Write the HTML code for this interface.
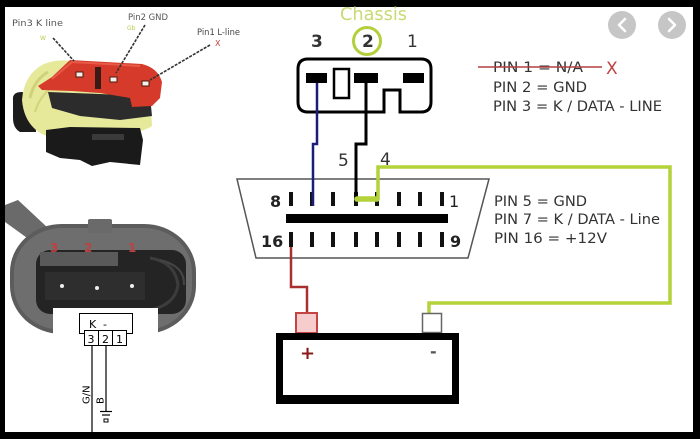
<!DOCTYPE html>
<html><head><meta charset="utf-8"><style>
html,body{margin:0;padding:0;background:#000;}
svg{display:block;}
text{font-family:"DejaVu Sans","Liberation Sans",sans-serif;}
</style></head><body>
<svg width="700" height="439" viewBox="0 0 700 439" xmlns="http://www.w3.org/2000/svg">
<rect x="0" y="0" width="700" height="439" fill="#000"/>
<rect x="5" y="7" width="688" height="425" fill="#fff"/>

<!-- ===== top-left photo (approx) ===== -->
<path d="M13,100 Q12,92 22,92 L34,96 L36,132 L20,132 Q13,128 13,118 Z" fill="#1c1c1c"/>
<path d="M22,100 Q24,74 44,64 Q60,58 75,62 L150,92 L152,126 Q140,134 120,132 L80,130 Q58,142 42,134 Q24,124 22,100 Z" fill="#e6e89a"/>
<path d="M30,98 Q34,80 48,72" stroke="#cfd27a" stroke-width="3" fill="none"/>
<path d="M35,112 Q40,95 55,85" stroke="#d2d47c" stroke-width="2" fill="none"/>
<path d="M48,92 L150,96 L152,116 L120,120 L80,116 L52,108 Z" fill="#2c2c2c"/>
<path d="M46,130 L70,127 L140,128 L143,140 L140,165 L110,162 L92,166 L80,160 L60,158 L46,152 Z" fill="#1a1a1a"/>
<rect x="92" y="134" width="32" height="6" fill="#3a3a3a"/>
<path d="M38,86 L52,77 L70,60 L142,64 Q158,68 162,82 L160,98 L152,106 L132,107 L130,98 L100,93 L72,91 L42,90 Z" fill="#d63a2a"/>
<path d="M52,79 L72,62 L140,66" stroke="#e85a48" stroke-width="2" fill="none"/>
<rect x="95" y="67" width="6" height="22" fill="#3a1a14"/>
<rect x="76" y="72" width="7" height="5" fill="#f4f0ea" stroke="#4a1a10" stroke-width="1"/>
<rect x="110" y="77" width="7" height="5" fill="#f4f0ea" stroke="#4a1a10" stroke-width="1"/>
<rect x="142" y="81" width="7" height="5" fill="#f4f0ea" stroke="#4a1a10" stroke-width="1"/>
<text x="12" y="26" font-size="8.5" fill="#555" textLength="51" lengthAdjust="spacingAndGlyphs">Pin3  K line</text>
<text x="128" y="20" font-size="8.5" fill="#555" textLength="40" lengthAdjust="spacingAndGlyphs">Pin2 GND</text>
<text x="197" y="35" font-size="8.5" fill="#444" textLength="43" lengthAdjust="spacingAndGlyphs">Pin1 L-line</text>
<text x="40" y="40" font-size="6" fill="#b8cc50">W</text>
<text x="127" y="30" font-size="6" fill="#b8cc50">Gb</text>
<text x="215" y="46" font-size="8" fill="#c04040">X</text>
<line x1="53" y1="38" x2="74" y2="61" stroke="#333" stroke-width="1.6" stroke-dasharray="3,1.2"/>
<line x1="145" y1="25" x2="116" y2="73" stroke="#333" stroke-width="1.6" stroke-dasharray="3,1.2"/>
<line x1="210" y1="45" x2="150" y2="80" stroke="#333" stroke-width="1.6" stroke-dasharray="3,1.2"/>

<!-- ===== bottom-left photo (approx) ===== -->
<path d="M5,205 L18,200 L48,228 L30,240 L5,222 Z" fill="#6a6a6a"/>
<rect x="10" y="224" width="186" height="110" rx="52" ry="48" fill="#5c5c5c"/>
<rect x="14" y="228" width="178" height="102" rx="48" ry="44" fill="#6e6e6e"/>
<rect x="88" y="219" width="24" height="14" rx="2" fill="#6a6a6a"/>
<rect x="36" y="250" width="150" height="64" rx="14" fill="#242424"/>
<rect x="40" y="252" width="78" height="14" fill="#5a5a5a"/>
<rect x="45" y="272" width="100" height="28" fill="#2e2e2e"/>
<path d="M150,258 Q175,262 178,285 Q175,305 150,310" stroke="#3c3c3c" stroke-width="3" fill="none"/>
<path d="M160,260 Q185,266 184,285" stroke="#444" stroke-width="2" fill="none"/>
<text x="50" y="252" font-size="12" fill="#c04040" font-weight="bold">3</text>
<text x="84" y="252" font-size="12" fill="#c04040" font-weight="bold">2</text>
<text x="128" y="252" font-size="12" fill="#c04040" font-weight="bold">1</text>
<circle cx="62" cy="286" r="2" fill="#eee"/>
<circle cx="97" cy="288" r="2" fill="#eee"/>
<circle cx="132" cy="286" r="2" fill="#eee"/>
<rect x="53" y="308" width="105" height="124" fill="#fff"/>
<rect x="79.5" y="313.5" width="53" height="20" fill="#fff" stroke="#000" stroke-width="1"/>
<text x="89" y="328" font-size="11" fill="#000" font-family="Liberation Sans, sans-serif">K</text>
<text x="103" y="328" font-size="11" fill="#000" font-family="Liberation Sans, sans-serif">-</text>
<rect x="84.5" y="330.5" width="42" height="15" fill="#fff" stroke="#000" stroke-width="1"/>
<line x1="98.5" y1="330.5" x2="98.5" y2="345.5" stroke="#000" stroke-width="1"/>
<line x1="112.5" y1="330.5" x2="112.5" y2="345.5" stroke="#000" stroke-width="1"/>
<text x="87.5" y="343" font-size="11" fill="#000" font-family="Liberation Sans, sans-serif">3</text>
<text x="102" y="343" font-size="11" fill="#000" font-family="Liberation Sans, sans-serif">2</text>
<text x="116" y="343" font-size="11" fill="#000" font-family="Liberation Sans, sans-serif">1</text>
<line x1="92" y1="346" x2="92" y2="432" stroke="#000" stroke-width="1.2"/>
<line x1="106" y1="346" x2="106" y2="411" stroke="#000" stroke-width="1.2"/>
<line x1="100" y1="411.5" x2="112" y2="411.5" stroke="#000" stroke-width="1.2"/>
<line x1="102" y1="415" x2="110" y2="415" stroke="#000" stroke-width="1.2"/>
<rect x="104" y="419" width="4" height="3" fill="none" stroke="#000" stroke-width="1"/>
<text transform="translate(89.5,404) rotate(-90)" font-size="10" fill="#000" font-family="Liberation Sans, sans-serif">G/N</text>
<text transform="translate(103.5,404) rotate(-90)" font-size="10" fill="#000" font-family="Liberation Sans, sans-serif">B</text>

<!-- ===== nav circles ===== -->
<circle cx="622" cy="25" r="14" fill="#c6c6c6"/>
<path d="M625,19 L619,25 L625,31" stroke="#fff" stroke-width="2.5" fill="none" stroke-linecap="round" stroke-linejoin="round"/>
<circle cx="672" cy="25" r="14" fill="#c6c6c6"/>
<path d="M669,19 L675,25 L669,31" stroke="#fff" stroke-width="2.5" fill="none" stroke-linecap="round" stroke-linejoin="round"/>

<!-- ===== Chassis / pin numbers ===== -->
<text x="340" y="20" font-size="18" fill="#c8da72" textLength="67" lengthAdjust="spacingAndGlyphs">Chassis</text>
<circle cx="367" cy="41" r="13.5" fill="none" stroke="#b4cf3c" stroke-width="3"/>
<text x="311" y="47" font-size="17" fill="#333" font-weight="bold" font-family="Liberation Sans, sans-serif">3</text>
<text x="362" y="47" font-size="17" fill="#333" font-weight="bold" font-family="Liberation Sans, sans-serif">2</text>
<text x="407" y="47" font-size="17" fill="#333" font-family="Liberation Sans, sans-serif">1</text>

<path d="M308,59 H421 Q431,59 431,69 V102 Q431,112 421,112 H400 V90 H384 V112 H308 Q298,112 298,102 V69 Q298,59 308,59 Z" fill="#fff" stroke="#000" stroke-width="3"/>
<rect x="306" y="73" width="21" height="10" fill="#000"/>
<rect x="334" y="69" width="15" height="29" fill="#fff" stroke="#000" stroke-width="2.5"/>
<rect x="354" y="73" width="24" height="10" fill="#000"/>
<rect x="403" y="73" width="21" height="10" fill="#000"/>

<text x="493" y="72" font-size="14" fill="#333" textLength="90" lengthAdjust="spacingAndGlyphs">PIN 1 = N/A</text>
<line x1="478" y1="67" x2="602" y2="67" stroke="#b04040" stroke-width="1.6"/>
<text x="606" y="74" font-size="17" fill="#c04040" font-family="Liberation Sans, sans-serif">X</text>
<text x="493" y="92" font-size="14" fill="#333" textLength="94" lengthAdjust="spacingAndGlyphs">PIN 2 = GND</text>
<text x="493" y="111" font-size="14" fill="#333" textLength="169" lengthAdjust="spacingAndGlyphs">PIN 3 = K / DATA - LINE</text>

<text x="494" y="206" font-size="14" fill="#333" textLength="93" lengthAdjust="spacingAndGlyphs">PIN 5 = GND</text>
<text x="494" y="224" font-size="14" fill="#333" textLength="166" lengthAdjust="spacingAndGlyphs">PIN 7 = K / DATA - Line</text>
<text x="494" y="243" font-size="14" fill="#333" textLength="113" lengthAdjust="spacingAndGlyphs">PIN 16 = +12V</text>

<!-- ===== OBD connector ===== -->
<polygon points="237,179 489,179 468,258 256,258" fill="#fff" stroke="#555" stroke-width="1.5"/>
<rect x="286" y="214" width="162" height="9" fill="#000"/>
<g fill="#111">
<rect x="289" y="192" width="4" height="14"/><rect x="310" y="192" width="4" height="14"/>
<rect x="331" y="192" width="4" height="14"/><rect x="354" y="192" width="4" height="14"/>
<rect x="375" y="192" width="4" height="14"/><rect x="397" y="192" width="4" height="14"/>
<rect x="418" y="192" width="4" height="14"/><rect x="440" y="192" width="4" height="14"/>
<rect x="289" y="232" width="4" height="15"/><rect x="310" y="232" width="4" height="15"/>
<rect x="331" y="232" width="4" height="15"/><rect x="354" y="232" width="4" height="15"/>
<rect x="375" y="232" width="4" height="15"/><rect x="397" y="232" width="4" height="15"/>
<rect x="418" y="232" width="4" height="15"/><rect x="440" y="232" width="4" height="15"/>
</g>
<text x="270" y="207" font-size="16" fill="#222" font-weight="bold" font-family="Liberation Sans, sans-serif">8</text>
<text x="449" y="207" font-size="16" fill="#222" font-family="Liberation Sans, sans-serif">1</text>
<text x="261" y="247" font-size="16" fill="#222" font-weight="bold" font-family="Liberation Sans, sans-serif">16</text>
<text x="450" y="247" font-size="16" fill="#222" font-weight="bold" font-family="Liberation Sans, sans-serif">9</text>
<text x="338" y="166" font-size="17" fill="#333" font-family="Liberation Sans, sans-serif">5</text>
<text x="380" y="165" font-size="17" fill="#333" font-family="Liberation Sans, sans-serif">4</text>

<polyline points="317,83 317,144 313,144 313,206" fill="none" stroke="#1c1c7a" stroke-width="2.5"/>
<polyline points="366,83 366,144 356,144 356,200" fill="none" stroke="#000" stroke-width="3"/>
<polyline points="378,199 378,167 670,167 670,303 429,303 429,318" fill="none" stroke="#b4d23a" stroke-width="3.5"/>
<line x1="357" y1="199" x2="377" y2="199" stroke="#b4d23a" stroke-width="5.5" stroke-linecap="round"/>
<polyline points="291,247 291,287 307,287 307,314" fill="none" stroke="#a83030" stroke-width="2.5"/>

<!-- ===== battery ===== -->
<rect x="296" y="313" width="21" height="20" fill="#f6cccc" stroke="#c44444" stroke-width="2"/>
<rect x="422.5" y="313.5" width="19" height="19" fill="#fff" stroke="#666" stroke-width="1.5"/>
<rect x="276" y="333" width="183" height="71" fill="#000"/>
<rect x="283" y="340" width="169" height="55" fill="#fff"/>
<text x="300" y="359" font-size="18" fill="#8b1a1a" font-weight="bold" font-family="Liberation Sans, sans-serif">+</text>
<text x="430" y="357" font-size="16" fill="#555" font-weight="bold" font-family="Liberation Sans, sans-serif">-</text>
</svg>
</body></html>
